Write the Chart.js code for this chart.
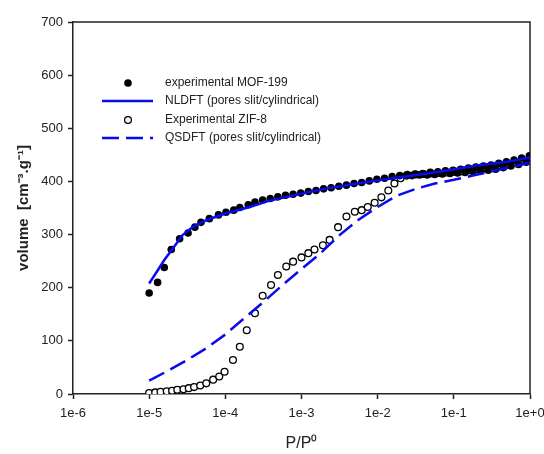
<!DOCTYPE html>
<html>
<head>
<meta charset="utf-8">
<script src="https://cdn.jsdelivr.net/npm/chart.js@4/dist/chart.umd.min.js"></script>
<style>
  html, body { margin: 0; padding: 0; background: #fff; }
  #chart { display: block; }
</style>
</head>
<body>
<canvas id="chart" width="544" height="454"></canvas>
<script>
/* Adsorption isotherms, log P/P0 axis. */

// x axis decades and their labels
var tickValues = [1e-6, 1e-5, 1e-4, 1e-3, 1e-2, 1e-1, 1];
var tickLabels = ['1e-6', '1e-5', '1e-4', '1e-3', '1e-2', '1e-1', '1e+0'];

// experimental MOF-199 (filled circles): adsorption then desorption branch
var mofP = [
    1.0e-5, 1.29e-5, 1.58e-5, 1.95e-5, 2.51e-5, 3.24e-5, 3.98e-5, 4.79e-5, 6.17e-5, 8.13e-5,
    1.02e-4, 1.29e-4, 1.55e-4, 2.0e-4, 2.45e-4, 3.09e-4, 3.89e-4, 4.9e-4, 6.17e-4, 7.76e-4,
    9.77e-4, 1.23e-3, 1.55e-3, 1.95e-3, 2.45e-3, 3.09e-3, 3.89e-3, 4.9e-3, 6.17e-3, 7.76e-3,
    9.77e-3, 1.23e-2, 1.55e-2, 1.95e-2, 2.45e-2, 3.09e-2, 3.89e-2, 4.9e-2, 6.17e-2, 7.76e-2,
    0.0977, 0.123, 0.155, 0.195, 0.245, 0.309, 0.389, 0.49, 0.617, 0.776, 0.98,
    0.891, 0.708, 0.562, 0.447, 0.355, 0.282, 0.224, 0.178, 0.141, 0.112,
    0.0891, 0.0708, 0.0562, 0.0447, 0.0355, 0.0282
];
var mofV = [
    190, 210, 238, 272, 292, 303, 314, 323, 330, 337,
    342, 346, 351, 356, 361, 365, 368, 371, 374, 376,
    378, 381, 383, 386, 388, 391, 393, 396, 398, 401,
    404, 406, 409, 411, 413, 414, 415, 417, 418, 420,
    421, 423, 425, 427, 429, 431, 434, 437, 440, 444, 448,
    436, 432, 429, 426, 423, 421, 420, 418, 417, 416,
    415, 414, 413, 412, 412, 411
];

// NLDFT (pores slit/cylindrical), solid blue
var nldftP = [1.0e-5, 1.26e-5, 1.58e-5, 2.0e-5, 2.75e-5, 3.72e-5, 5.62e-5, 1.02e-4, 2.09e-4, 3.63e-4,
    1.0e-3, 2.0e-3, 5.0e-3, 1.0e-2, 2.0e-2, 5.0e-2, 0.1, 0.2, 0.5, 1.0];
var nldftV = [208, 230, 252, 272, 299, 314, 327, 340, 352, 363,
    377, 386, 395, 402, 408, 416, 423, 430, 437, 445];

// experimental ZIF-8 (open circles)
var zifP = [
    1.0e-5, 1.2e-5, 1.41e-5, 1.7e-5, 2.0e-5, 2.34e-5, 2.82e-5, 3.31e-5, 3.89e-5, 4.68e-5,
    5.62e-5, 6.92e-5, 8.32e-5, 9.77e-5, 1.26e-4, 1.55e-4, 1.91e-4, 2.45e-4, 3.09e-4, 3.98e-4,
    4.9e-4, 6.31e-4, 7.76e-4, 1.0e-3, 1.23e-3, 1.48e-3, 1.91e-3, 2.34e-3, 3.02e-3, 3.89e-3,
    5.01e-3, 6.17e-3, 7.41e-3, 9.12e-3, 1.12e-2, 1.38e-2, 1.66e-2, 2.0e-2, 2.4e-2, 3.16e-2,
    3.98e-2, 5.01e-2, 6.31e-2, 7.94e-2, 0.1, 0.126, 0.158, 0.2, 0.251, 0.316,
    0.398, 0.501, 0.631, 0.794, 1.0
];
var zifV = [
    2, 3, 4, 5, 6, 8, 9, 11, 13, 16,
    20, 27, 33, 42, 64, 89, 120, 152, 185, 205,
    224, 240, 249, 257, 265, 272, 280, 290, 314, 334,
    343, 346, 352, 360, 370, 383, 396, 406, 411, 413,
    414, 415, 416, 417, 418, 419, 421, 423, 425, 427,
    430, 433, 436, 440, 446
];

// QSDFT (pores slit/cylindrical), dashed blue
var qsdftP = [1.0e-5, 1.78e-5, 3.16e-5, 5.62e-5, 1.0e-4, 1.78e-4, 3.16e-4, 5.62e-4, 1.0e-3, 1.78e-3,
    3.16e-3, 5.62e-3, 1.0e-2, 1.78e-2, 3.16e-2, 5.62e-2, 0.1, 0.178, 0.316, 0.562, 1.0];
var qsdftV = [25, 44, 64, 86, 112, 143, 173, 205, 235, 265,
    299, 328, 352, 373, 386, 396, 403, 411, 419, 427, 435];

var legendLabels = [
    'experimental MOF-199',
    'NLDFT (pores slit/cylindrical)',
    'Experimental ZIF-8',
    'QSDFT (pores slit/cylindrical)'
];

var pts = function (xs, ys) {
    return xs.map(function (x, i) { return { x: x, y: ys[i] }; });
};

var INK = '#222';
var BLUE = '#0a0af0';
var FONT = '"Liberation Sans", Arial, sans-serif';

// frame on the top and right sides
var frame = {
    id: 'frame',
    beforeDatasetsDraw: function (chart) {
        var a = chart.chartArea, ctx = chart.ctx;
        ctx.save();
        ctx.strokeStyle = INK;
        ctx.lineWidth = 1.5;
        ctx.beginPath();
        ctx.moveTo(a.left, a.top);
        ctx.lineTo(a.right, a.top);
        ctx.lineTo(a.right, a.bottom);
        ctx.stroke();
        ctx.restore();
    }
};

// legend drawn inside the plot, symbols left of the text
var insideLegend = {
    id: 'insideLegend',
    afterDraw: function (chart) {
        var ctx = chart.ctx;
        var rows = [83, 101, 120, 138];
        var symX = 128, lineX0 = 102, lineX1 = 153, textX = 165;
        ctx.save();
        ctx.font = '12px ' + FONT;
        ctx.textBaseline = 'middle';
        ctx.textAlign = 'left';
        legendLabels.forEach(function (t, i) {
            var y = rows[i];
            ctx.fillStyle = INK;
            ctx.fillText(t, textX, y);
            if (i === 0) {
                ctx.beginPath();
                ctx.arc(symX, y, 3.8, 0, Math.PI * 2);
                ctx.fillStyle = '#000';
                ctx.fill();
            } else if (i === 2) {
                ctx.beginPath();
                ctx.arc(symX, y, 3.4, 0, Math.PI * 2);
                ctx.fillStyle = '#fff';
                ctx.fill();
                ctx.lineWidth = 1.3;
                ctx.strokeStyle = '#000';
                ctx.stroke();
            } else {
                ctx.beginPath();
                ctx.strokeStyle = BLUE;
                ctx.lineWidth = 2.5;
                ctx.setLineDash(i === 3 ? [17, 7] : []);
                ctx.moveTo(lineX0, y);
                ctx.lineTo(lineX1, y);
                ctx.stroke();
                ctx.setLineDash([]);
            }
        });
        ctx.restore();
    }
};

new Chart(document.getElementById('chart'), {
    type: 'scatter',
    data: {
        datasets: [
            {
                label: legendLabels[1],
                data: pts(nldftP, nldftV),
                showLine: true,
                borderColor: BLUE,
                borderWidth: 2.5,
                pointRadius: 0,
                order: 0
            },
            {
                label: legendLabels[3],
                data: pts(qsdftP, qsdftV),
                showLine: true,
                borderColor: BLUE,
                borderWidth: 2.5,
                borderDash: [17, 7],
                pointRadius: 0,
                order: 1
            },
            {
                label: legendLabels[0],
                data: pts(mofP, mofV),
                pointRadius: 3.8,
                pointBackgroundColor: '#000',
                pointBorderColor: '#000',
                pointBorderWidth: 0,
                order: 2
            },
            {
                label: legendLabels[2],
                data: pts(zifP, zifV),
                pointRadius: 3.4,
                pointBackgroundColor: '#fff',
                pointBorderColor: '#000',
                pointBorderWidth: 1.3,
                order: 3
            }
        ]
    },
    options: {
        responsive: false,
        animation: false,
        layout: { padding: { top: 22, right: 14, left: 0, bottom: 0 } },
        plugins: {
            legend: { display: false },
            tooltip: { enabled: false }
        },
        scales: {
            x: {
                type: 'logarithmic',
                min: 1e-6,
                max: 1,
                afterBuildTicks: function (scale) {
                    scale.ticks = tickValues.map(function (v) { return { value: v }; });
                },
                afterFit: function (scale) {
                    scale.height = 60;
                    scale.paddingLeft = 0;
                    scale.paddingRight = 0;
                },
                grid: {
                    drawOnChartArea: false,
                    drawTicks: true,
                    tickLength: 5,
                    tickWidth: 1.5,
                    tickColor: INK
                },
                border: { display: true, color: INK, width: 1.5 },
                ticks: {
                    color: INK,
                    font: { family: FONT, size: 13 },
                    padding: 7,
                    maxRotation: 0,
                    autoSkip: false,
                    callback: function (v) {
                        var i = tickValues.indexOf(v);
                        return i >= 0 ? tickLabels[i] : '';
                    }
                },
                title: {
                    display: true,
                    text: 'P/P\u2070',
                    color: INK,
                    font: { family: FONT, size: 16 },
                    padding: { top: 0, bottom: 1 }
                }
            },
            y: {
                min: 0,
                max: 700,
                afterFit: function (scale) {
                    scale.width = 73;
                    scale.paddingTop = 0;
                    scale.paddingBottom = 0;
                },
                grid: {
                    drawOnChartArea: false,
                    drawTicks: true,
                    tickLength: 5,
                    tickWidth: 1.5,
                    tickColor: INK
                },
                border: { display: true, color: INK, width: 1.5 },
                ticks: {
                    stepSize: 100,
                    color: INK,
                    font: { family: FONT, size: 13 },
                    padding: 5
                },
                title: {
                    display: true,
                    text: 'volume  [cm\u207B\u00B3.g\u207B\u00B9]',
                    color: INK,
                    font: { family: FONT, size: 15, weight: 'bold' },
                    padding: { top: 15, bottom: 0 }
                }
            }
        }
    },
    plugins: [frame, insideLegend]
});
</script>
</body>
</html>
